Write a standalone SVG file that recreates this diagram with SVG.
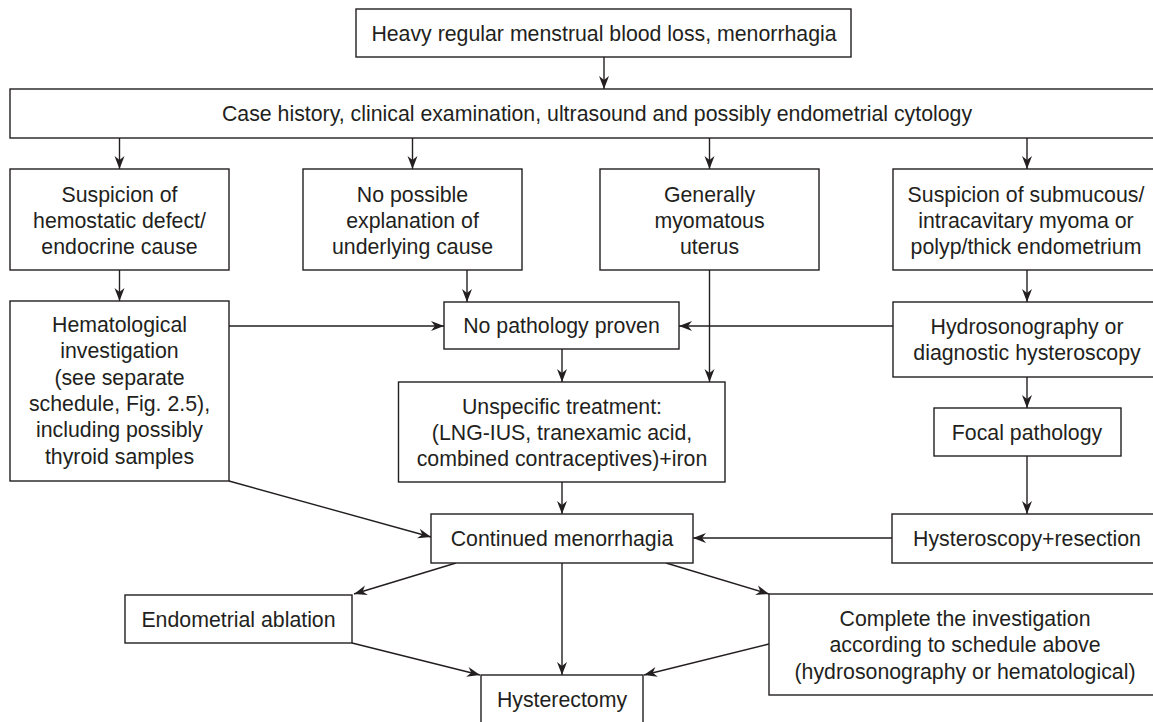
<svg xmlns="http://www.w3.org/2000/svg" width="1153" height="722" viewBox="0 0 1153 722">
<style>
.box{fill:#fff;stroke:#231f20;stroke-width:1.4}
.t{font-family:"Liberation Sans",Arial,sans-serif;font-size:21.3px;fill:#231f20;text-anchor:middle}
.c{fill:none;stroke:#231f20;stroke-width:1.4}
</style>
<defs>
<marker id="ah" markerUnits="userSpaceOnUse" viewBox="-14 -6 15 12" refX="0" refY="0" markerWidth="15" markerHeight="12" orient="auto">
<path d="M0,0 L-13,-5 L-9,0 L-13,5 Z" fill="#231f20"/>
</marker>
</defs>
<rect width="1153" height="722" fill="#fff"/>
<g id="connectors">
<line class="c" x1="604" y1="57" x2="604" y2="89" marker-end="url(#ah)"/>
<line class="c" x1="119.5" y1="138" x2="119.5" y2="169" marker-end="url(#ah)"/>
<line class="c" x1="412.5" y1="138" x2="412.5" y2="169" marker-end="url(#ah)"/>
<line class="c" x1="709.5" y1="138" x2="709.5" y2="169" marker-end="url(#ah)"/>
<line class="c" x1="1027" y1="138" x2="1027" y2="169" marker-end="url(#ah)"/>
<line class="c" x1="119.5" y1="270" x2="119.5" y2="301" marker-end="url(#ah)"/>
<line class="c" x1="467" y1="270" x2="467" y2="302" marker-end="url(#ah)"/>
<line class="c" x1="229" y1="326" x2="444" y2="326" marker-end="url(#ah)"/>
<line class="c" x1="893" y1="326" x2="679" y2="326" marker-end="url(#ah)"/>
<line class="c" x1="709.5" y1="270" x2="709.5" y2="382" marker-end="url(#ah)"/>
<line class="c" x1="1027" y1="270" x2="1027" y2="302" marker-end="url(#ah)"/>
<line class="c" x1="562" y1="349" x2="562" y2="382" marker-end="url(#ah)"/>
<line class="c" x1="1027" y1="377" x2="1027" y2="408" marker-end="url(#ah)"/>
<line class="c" x1="1027" y1="456" x2="1027" y2="514" marker-end="url(#ah)"/>
<line class="c" x1="562" y1="482" x2="562" y2="514" marker-end="url(#ah)"/>
<line class="c" x1="229" y1="481" x2="431" y2="537" marker-end="url(#ah)"/>
<line class="c" x1="892" y1="538" x2="693" y2="538" marker-end="url(#ah)"/>
<line class="c" x1="456" y1="563" x2="354" y2="594" marker-end="url(#ah)"/>
<line class="c" x1="352" y1="643" x2="480" y2="675" marker-end="url(#ah)"/>
<line class="c" x1="562" y1="563" x2="562" y2="675" marker-end="url(#ah)"/>
<line class="c" x1="666" y1="563" x2="769" y2="594" marker-end="url(#ah)"/>
<line class="c" x1="769" y1="644" x2="644" y2="675" marker-end="url(#ah)"/>
</g>
<g id="n1"><rect class="box" x="356" y="9" width="495" height="48"/><text class="t" x="604" y="40.5">Heavy regular menstrual blood loss, menorrhagia</text></g>
<g id="n2"><rect class="box" x="10" y="89" width="1150" height="49"/><text class="t" x="597" y="121">Case history, clinical examination, ultrasound and possibly endometrial cytology</text></g>
<g id="n3"><rect class="box" x="10" y="169" width="219" height="101"/><text class="t" x="119.5" y="201.5">Suspicion of</text><text class="t" x="119.5" y="227.8">hemostatic defect/</text><text class="t" x="119.5" y="254">endocrine cause</text></g>
<g id="n4"><rect class="box" x="303" y="169" width="219" height="101"/><text class="t" x="412.5" y="201.5">No possible</text><text class="t" x="412.5" y="227.8">explanation of</text><text class="t" x="412.5" y="254">underlying cause</text></g>
<g id="n5"><rect class="box" x="600" y="169" width="219" height="101"/><text class="t" x="709.5" y="201.5">Generally</text><text class="t" x="709.5" y="227.8">myomatous</text><text class="t" x="709.5" y="254">uterus</text></g>
<g id="n6"><rect class="box" x="893" y="169" width="267" height="101"/><text class="t" x="1026" y="201.5">Suspicion of submucous/</text><text class="t" x="1026" y="227.8">intracavitary myoma or</text><text class="t" x="1026" y="254">polyp/thick endometrium</text></g>
<g id="n7"><rect class="box" x="10" y="301" width="219" height="180"/><text class="t" x="119.5" y="332">Hematological</text><text class="t" x="119.5" y="358.3">investigation</text><text class="t" x="119.5" y="384.6">(see separate</text><text class="t" x="119.5" y="410.9">schedule, Fig. 2.5),</text><text class="t" x="119.5" y="437.2">including possibly</text><text class="t" x="119.5" y="463.5">thyroid samples</text></g>
<g id="n8"><rect class="box" x="444" y="302" width="235" height="47"/><text class="t" x="561.5" y="333">No pathology proven</text></g>
<g id="n9"><rect class="box" x="893" y="302" width="267" height="75"/><text class="t" x="1027" y="333.5">Hydrosonography or</text><text class="t" x="1027" y="360">diagnostic hysteroscopy</text></g>
<g id="n10"><rect class="box" x="398.5" y="382" width="326.5" height="100"/><text class="t" x="562" y="413.5">Unspecific treatment:</text><text class="t" x="562" y="439.8">(LNG-IUS, tranexamic acid,</text><text class="t" x="562" y="466">combined contraceptives)+iron</text></g>
<g id="n11"><rect class="box" x="934" y="408" width="187" height="48"/><text class="t" x="1027" y="439.5">Focal pathology</text></g>
<g id="n12"><rect class="box" x="431" y="514" width="262" height="49"/><text class="t" x="562" y="546">Continued menorrhagia</text></g>
<g id="n13"><rect class="box" x="892" y="514" width="268" height="49"/><text class="t" x="1027" y="546">Hysteroscopy+resection</text></g>
<g id="n14"><rect class="box" x="125" y="595" width="227" height="48"/><text class="t" x="238.5" y="627">Endometrial ablation</text></g>
<g id="n15"><rect class="box" x="769" y="594" width="391" height="101"/><text class="t" x="965" y="626">Complete the investigation</text><text class="t" x="965" y="652.3">according to schedule above</text><text class="t" x="965" y="678.5">(hydrosonography or hematological)</text></g>
<g id="n16"><rect class="box" x="481" y="675" width="162" height="48"/><text class="t" x="562" y="706.5">Hysterectomy</text></g>
</svg>
